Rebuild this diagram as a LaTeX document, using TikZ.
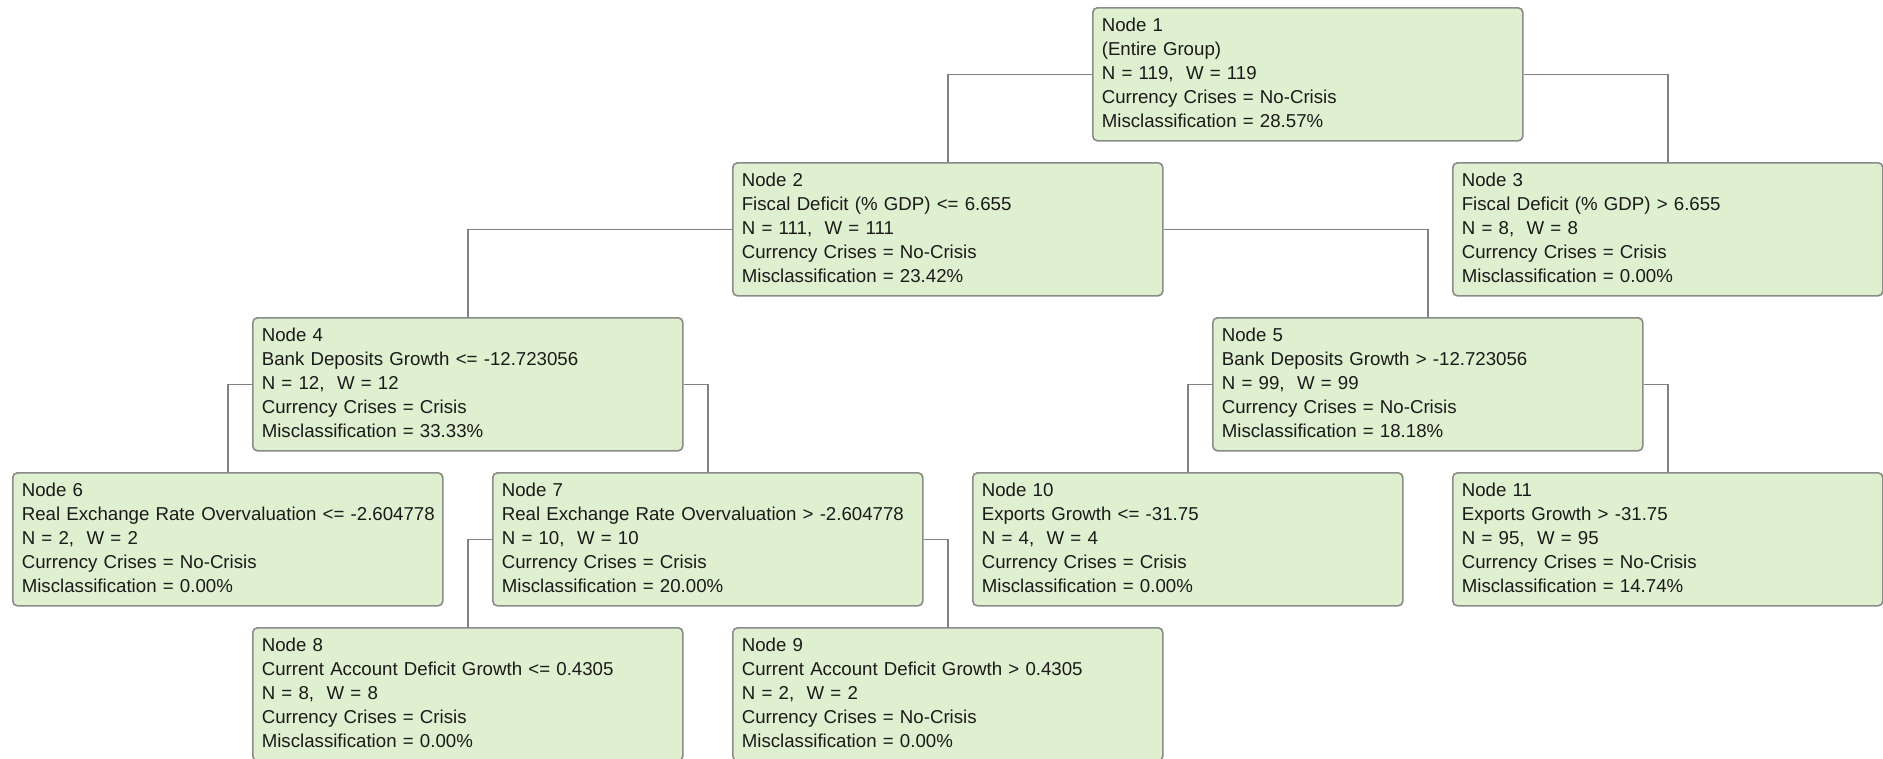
\documentclass[tikz,border=0pt]{standalone}
\usepackage{fontspec}
\setmainfont{Liberation Sans}
\definecolor{boxfill}{HTML}{DFF0D0}
\definecolor{boxline}{HTML}{8A8A8A}
\definecolor{linecol}{HTML}{808080}
\definecolor{txt}{HTML}{1A1A1A}
\begin{document}
\begin{tikzpicture}[x=0.75pt,y=-0.75pt,
  tnode/.style={draw=boxline, line width=1.2pt, fill=boxfill, rounded corners=3.5pt,
    anchor=north west, inner xsep=6.75pt, inner ysep=0pt, text width=309pt, align=left,
    text height=18pt, text depth=81.75pt, minimum width=322.5pt,
    font=\fontsize{14pt}{18pt}\selectfont, text=txt},
  link/.style={draw=linecol, line width=1.2pt}]
\useasboundingbox (0,0) rectangle (1883,758);

\node[tnode] (n1) at (1092,7) {Node 1\\(Entire Group)\\N = 119,~ W = 119\\Currency Crises = No-Crisis\\Misclassification = 28.57\%};
\node[tnode] (n2) at (732,162) {Node 2\\Fiscal Deficit (\% GDP) <= 6.655\\N = 111,~ W = 111\\Currency Crises = No-Crisis\\Misclassification = 23.42\%};
\node[tnode] (n3) at (1452,162) {Node 3\\Fiscal Deficit (\% GDP) > 6.655\\N = 8,~ W = 8\\Currency Crises = Crisis\\Misclassification = 0.00\%};
\node[tnode] (n4) at (252,317) {Node 4\\Bank Deposits Growth <= -12.723056\\N = 12,~ W = 12\\Currency Crises = Crisis\\Misclassification = 33.33\%};
\node[tnode] (n5) at (1212,317) {Node 5\\Bank Deposits Growth > -12.723056\\N = 99,~ W = 99\\Currency Crises = No-Crisis\\Misclassification = 18.18\%};
\node[tnode] (n6) at (12,472) {Node 6\\\mbox{Real Exchange Rate Overvaluation <= -2.604778}\\N = 2,~ W = 2\\Currency Crises = No-Crisis\\Misclassification = 0.00\%};
\node[tnode] (n7) at (492,472) {Node 7\\\mbox{Real Exchange Rate Overvaluation > -2.604778}\\N = 10,~ W = 10\\Currency Crises = Crisis\\Misclassification = 20.00\%};
\node[tnode] (n10) at (972,472) {Node 10\\Exports Growth <= -31.75\\N = 4,~ W = 4\\Currency Crises = Crisis\\Misclassification = 0.00\%};
\node[tnode] (n11) at (1452,472) {Node 11\\Exports Growth > -31.75\\N = 95,~ W = 95\\Currency Crises = No-Crisis\\Misclassification = 14.74\%};
\node[tnode] (n8) at (252,627) {Node 8\\Current Account Deficit Growth <= 0.4305\\N = 8,~ W = 8\\Currency Crises = Crisis\\Misclassification = 0.00\%};
\node[tnode] (n9) at (732,627) {Node 9\\Current Account Deficit Growth > 0.4305\\N = 2,~ W = 2\\Currency Crises = No-Crisis\\Misclassification = 0.00\%};

\draw[link] (n1.west) -| (n2.north);
\draw[link] (n1.east) -| (n3.north);
\draw[link] (n2.west) -| (n4.north);
\draw[link] (n2.east) -| (n5.north);
\draw[link] (n4.west) -| (n6.north);
\draw[link] (n4.east) -| (n7.north);
\draw[link] (n5.west) -| (n10.north);
\draw[link] (n5.east) -| (n11.north);
\draw[link] (n7.west) -| (n8.north);
\draw[link] (n7.east) -| (n9.north);
\end{tikzpicture}
\end{document}
